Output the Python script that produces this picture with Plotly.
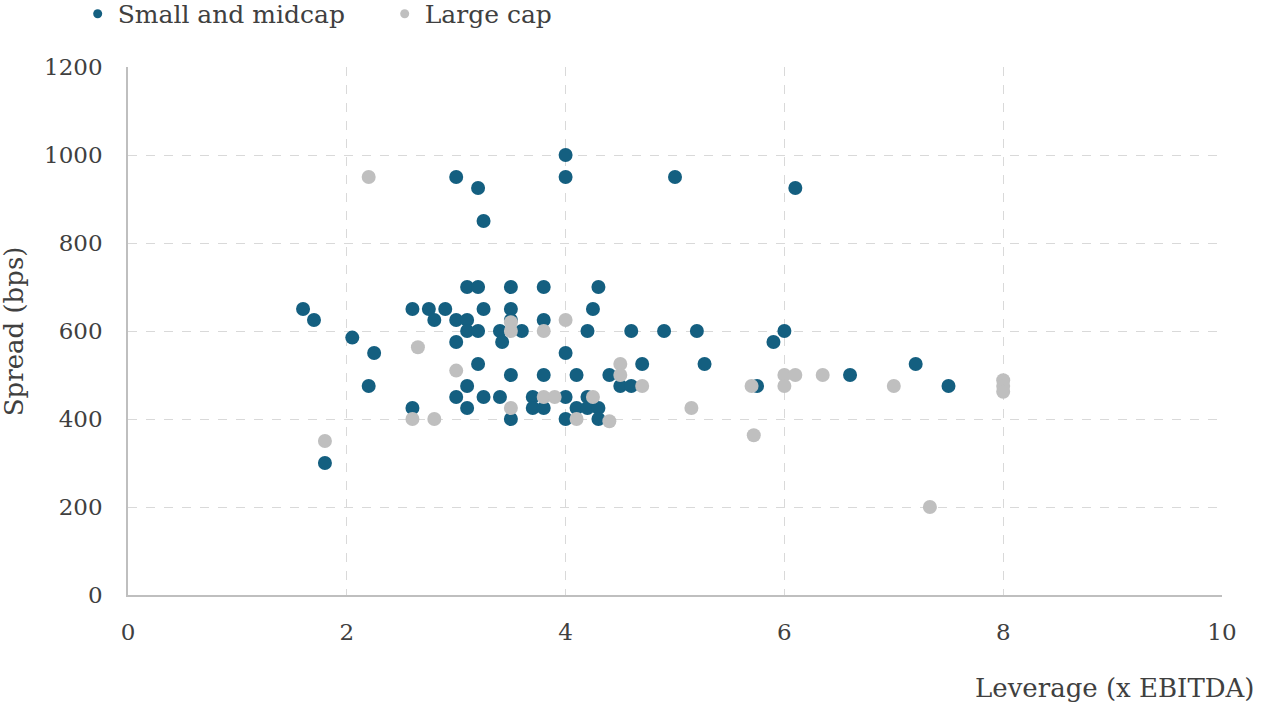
import plotly.graph_objects as go

# Small and midcap: leverage (x EBITDA), spread (bps)
small_lev = [1.6, 1.7, 1.8, 2.05, 2.2, 2.25, 2.6, 2.6, 2.75, 2.8, 2.9, 3.0, 3.0, 3.0, 3.0,
             3.1, 3.1, 3.1, 3.1, 3.1, 3.2, 3.2, 3.2, 3.2, 3.25, 3.25, 3.25, 3.4, 3.42, 3.4,
             3.5, 3.5, 3.5, 3.5, 3.5, 3.6, 3.7, 3.7, 3.8, 3.8, 3.8, 3.8, 4.0, 4.0, 4.0, 4.0,
             4.0, 4.1, 4.1, 4.2, 4.2, 4.2, 4.25, 4.3, 4.3, 4.3, 4.4, 4.5, 4.6, 4.6, 4.7, 4.9,
             5.0, 5.2, 5.27, 5.75, 5.9, 6.0, 6.1, 6.6, 7.2, 7.5]
small_spread = [650, 625, 300, 585, 475, 550, 650, 425, 650, 625, 650, 625, 575, 450, 950,
                700, 625, 600, 475, 425, 700, 600, 525, 925, 650, 450, 850, 600, 575, 450,
                700, 650, 625, 500, 400, 600, 450, 425, 700, 625, 500, 425, 1000, 950, 550, 450,
                400, 500, 425, 600, 450, 425, 650, 700, 425, 400, 500, 475, 600, 475, 525, 600,
                950, 600, 525, 475, 575, 600, 925, 500, 525, 475]

# Large cap
large_lev = [1.8, 2.2, 2.6, 2.65, 2.8, 3.0, 3.5, 3.5, 3.5, 3.8, 3.8, 3.9, 4.0, 4.1, 4.25,
             4.4, 4.5, 4.5, 4.7, 5.15, 5.7, 5.72, 6.0, 6.0, 6.1, 6.35, 7.0, 7.33, 8.0, 8.0, 8.0]
large_spread = [350, 950, 400, 563, 400, 510, 620, 600, 425, 600, 450, 450, 625, 400, 450,
                395, 525, 500, 475, 425, 475, 363, 500, 475, 500, 500, 475, 200, 488, 475, 462]

series_names = ["Small and midcap", "Large cap"]
colors = ["#145F80", "#BFBFBF"]

x_ticks = [0, 2, 4, 6, 8, 10]
y_ticks = [0, 200, 400, 600, 800, 1000, 1200]

x_title = "Leverage (x EBITDA)"
y_title = "Spread (bps)"

FONT = "DejaVu Serif, Georgia, serif"
TXT = "#404040"

fig = go.Figure()
fig.add_trace(go.Scatter(x=small_lev, y=small_spread, mode="markers", name=series_names[0],
                         marker=dict(color=colors[0], size=14), showlegend=False))
fig.add_trace(go.Scatter(x=large_lev, y=large_spread, mode="markers", name=series_names[1],
                         marker=dict(color=colors[1], size=14), showlegend=False))
# legend entries with smaller symbols
for name, c in zip(series_names, colors):
    fig.add_trace(go.Scatter(x=[None], y=[None], mode="markers", name=name,
                             marker=dict(color=c, size=9), showlegend=True))

fig.update_layout(
    width=1264, height=704,
    margin=dict(l=128, r=42, t=67, b=109, autoexpand=False),
    paper_bgcolor="white", plot_bgcolor="white",
    font=dict(family=FONT, color=TXT, size=23),
    legend=dict(orientation="h", x=-0.046, y=1.144, xanchor="left", yanchor="top",
                font=dict(size=25, family=FONT, color=TXT), itemwidth=30,
                entrywidth=262, entrywidthmode="pixels",
                bgcolor="rgba(0,0,0,0)"),
    xaxis=dict(range=[0, 10], tickvals=x_ticks, ticktext=[str(v) for v in x_ticks],
               showgrid=True, gridcolor="#D9D9D9", griddash="dash", gridwidth=1.3,
               zeroline=False, showline=True, linecolor="#BFBFBF", linewidth=1.5,
               ticks="", ticklabelstandoff=16, tickfont=dict(size=23), automargin=False),
    yaxis=dict(range=[0, 1200], tickvals=y_ticks, ticktext=[str(v) for v in y_ticks],
               showgrid=True, gridcolor="#D9D9D9", griddash="dash", gridwidth=1.3,
               zeroline=False, showline=True, linecolor="#BFBFBF", linewidth=1.5,
               ticks="", ticklabelstandoff=19, tickfont=dict(size=23), automargin=False),
    annotations=[
        dict(text=x_title, xref="paper", yref="paper", x=1.032, y=-0.176,
             xanchor="right", yanchor="middle", showarrow=False,
             font=dict(size=26, family=FONT, color=TXT)),
        dict(text=y_title, xref="paper", yref="paper", x=-0.104, y=0.5,
             xanchor="center", yanchor="middle", showarrow=False, textangle=-90,
             font=dict(size=26, family=FONT, color=TXT)),
    ],
)

fig.write_html("out.html", config={"displayModeBar": False},
               post_script="document.body.style.margin='0';")
